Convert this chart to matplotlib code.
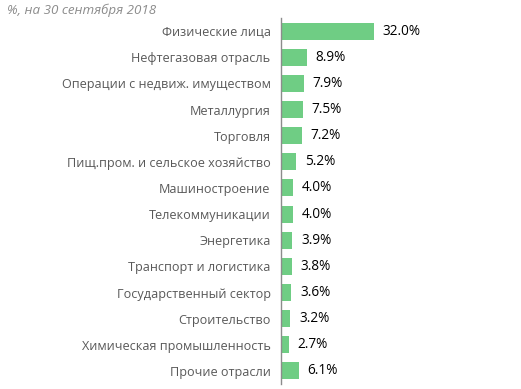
import matplotlib
matplotlib.use("Agg")
import matplotlib.pyplot as plt

categories = ["Физические лица", "Нефтегазовая отрасль", "Операции с недвиж. имуществом",
              "Металлургия", "Торговля", "Пищ.пром. и сельское хозяйство", "Машиностроение",
              "Телекоммуникации", "Энергетика", "Транспорт и логистика",
              "Государственный сектор", "Строительство", "Химическая промышленность",
              "Прочие отрасли"]
values = [32.0, 8.9, 7.9, 7.5, 7.2, 5.2, 4.0, 4.0, 3.9, 3.8, 3.6, 3.2, 2.7, 6.1]
title = "%, на 30 сентября 2018"

W, H = 521, 389
fig = plt.figure(figsize=(W/100, H/100), dpi=100)
left, right, top, bottom = 281, 512, 18, 384
ax = fig.add_axes([left/W, 1-bottom/H, (right-left)/W, (bottom-top)/H])
n = len(categories)
ys = list(range(n))
ax.barh(ys, values, height=0.65, color="#6fcd84")
ax.set_ylim(n-0.5, -0.5)
ax.set_xlim(0, (right-left)/2.9)
for s in ["top", "right", "bottom"]:
    ax.spines[s].set_visible(False)
ax.spines["left"].set_color("#8c8c8c")
ax.spines["left"].set_linewidth(1)
ax.set_xticks([])
ax.set_yticks(ys)
ax.set_yticklabels(categories, fontsize=9.1, color="#595959", family="Open Sans")
ax.tick_params(axis="y", length=0, pad=7.5)
for y, v in zip(ys, values):
    ax.text(v + 3.0, y, f"{v:.1f}%", va="center", ha="left", fontsize=9.8,
            color="black", family="Open Sans")
fig.text(7/W, 1-10/H, title, fontsize=9.6, style="italic", color="#8c8c8c",
         family="Open Sans", va="center", ha="left")
fig.savefig("out.png", dpi=100)
